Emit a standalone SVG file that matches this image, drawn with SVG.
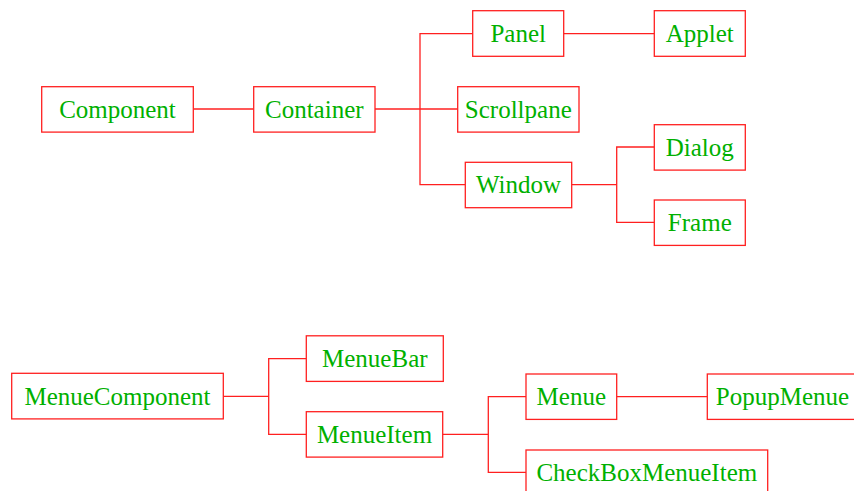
<svg xmlns="http://www.w3.org/2000/svg" width="854" height="491" viewBox="0 0 854 491">
<style>
rect{fill:#fff;stroke:#ff2020;stroke-width:1.3}
text{font-family:"Liberation Serif","Times New Roman",serif;font-size:25px;fill:#00b000;text-anchor:middle}
#connectors path{fill:none;stroke:#ff2020;stroke-width:1.3}
</style>
<rect x="0" y="0" width="854" height="491" style="stroke:none"/>
<g id="connectors">
<path d="M193.3 109H253.7"/>
<path d="M375 109H457.7"/>
<path d="M472.7 33.7H420V184.7H465.3"/>
<path d="M563.7 33.7H654.3"/>
<path d="M571.7 184.7H616.7"/>
<path d="M654.3 147H616.7V222.3H654.3"/>
<path d="M223.3 396.3H268.7"/>
<path d="M306.3 358.7H268.7V434.3H306.3"/>
<path d="M442.7 434.3H488.3"/>
<path d="M526 396.7H488.3V472.3H526"/>
<path d="M616.7 396.7H707.3"/>
</g>
<g id="Component"><rect x="41.7" y="86.7" width="151.6" height="45.4"/><text x="117.5" y="117.5">Component</text></g>
<g id="Container"><rect x="253.7" y="86.7" width="121.3" height="45.4"/><text x="314.3" y="117.5">Container</text></g>
<g id="Panel"><rect x="472.7" y="10.7" width="91" height="45.6"/><text x="518.2" y="42">Panel</text></g>
<g id="Applet"><rect x="654.3" y="10.7" width="91" height="45.6"/><text x="699.8" y="42">Applet</text></g>
<g id="Scrollpane"><rect x="457.7" y="86.7" width="121.3" height="45.4"/><text x="518.3" y="117.5">Scrollpane</text></g>
<g id="Window"><rect x="465.3" y="162.3" width="106.4" height="45.4"/><text x="518.5" y="193">Window</text></g>
<g id="Dialog"><rect x="654.3" y="124.7" width="91" height="45.4"/><text x="699.8" y="155.5">Dialog</text></g>
<g id="Frame"><rect x="654.3" y="200" width="91" height="45.4"/><text x="699.8" y="230.8">Frame</text></g>
<g id="MenueComponent"><rect x="11.7" y="373.3" width="211.6" height="45.6"/><text x="117.5" y="404.5">MenueComponent</text></g>
<g id="MenueBar"><rect x="306.3" y="335.8" width="137" height="45.6"/><text x="374.8" y="367">MenueBar</text></g>
<g id="MenueItem"><rect x="306.3" y="411.7" width="136.4" height="45.4"/><text x="374.5" y="442.5">MenueItem</text></g>
<g id="Menue"><rect x="526" y="374" width="90.7" height="45.4"/><text x="571.3" y="404.8">Menue</text></g>
<g id="PopupMenue"><rect x="707.3" y="374" width="152" height="45.4"/><text x="782.5" y="404.8">PopupMenue</text></g>
<g id="CheckBoxMenueItem"><rect x="526" y="450" width="241.7" height="45.4"/><text x="646.8" y="480.6">CheckBoxMenueItem</text></g>
</svg>
